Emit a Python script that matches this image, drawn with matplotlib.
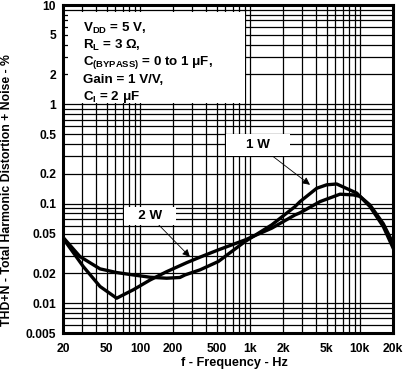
import matplotlib
matplotlib.use("Agg")
import matplotlib.pyplot as plt
from matplotlib.patches import Rectangle
from matplotlib.ticker import FixedLocator, NullFormatter, LogLocator

plt.rcParams['font.family'] = ['Liberation Sans', 'DejaVu Sans']
plt.rcParams['font.weight'] = 'bold'
plt.rcParams['mathtext.fontset'] = 'custom'
plt.rcParams['mathtext.rm'] = 'Liberation Sans:bold'
plt.rcParams['mathtext.bf'] = 'Liberation Sans:bold'
plt.rcParams['mathtext.it'] = 'Liberation Sans:bold'

# Data
freq_1w = [20, 28.5, 43.4, 61.5, 87, 124, 175, 231, 257, 352, 516, 903, 1578,
           2570, 2856, 4048, 4990, 6150, 9354, 12360, 16320, 20000]
thd_1w = [0.046, 0.0294, 0.0221, 0.0203, 0.0192, 0.0182, 0.0178, 0.0181, 0.0192,
          0.0216, 0.0262, 0.0416, 0.0612, 0.0935, 0.105, 0.143, 0.155, 0.158,
          0.128, 0.0935, 0.0589, 0.036]

freq_2w = [20, 30.6, 43.4, 61.5, 87, 124, 175, 266, 352, 516, 903, 1578, 2570,
           2856, 4338, 6592, 8710, 10020, 12360, 16320, 20000]
thd_2w = [0.045, 0.0233, 0.0147, 0.0112, 0.0136, 0.0171, 0.0207, 0.0255, 0.029,
          0.0343, 0.0432, 0.0567, 0.0771, 0.081, 0.105, 0.1247, 0.1227, 0.1187,
          0.097, 0.063, 0.040]

x_ticks = [20, 50, 100, 200, 500, 1000, 2000, 5000, 10000, 20000]
x_labels = ['20', '50', '100', '200', '500', '1k', '2k', '5k', '10k', '20k']
y_ticks = [0.005, 0.01, 0.02, 0.05, 0.1, 0.2, 0.5, 1, 2, 5, 10]
y_labels = ['0.005', '0.01', '0.02', '0.05', '0.1', '0.2', '0.5', '1', '2', '5', '10']

conditions = [r"V$_{\mathbf{DD}}$ = 5 V,",
              r"R$_{\mathbf{L}}$ = 3 Ω,",
              r"C$_{\mathbf{(BYPASS)}}$ = 0 to 1 μF,",
              r"Gain = 1 V/V,",
              r"C$_{\mathbf{I}}$ = 2 μF"]

fig = plt.figure(figsize=(4.06, 3.75), dpi=100)
ax = fig.add_axes([63/406, 1-333/375, 330/406, 328/375])
ax.set_xscale('log')
ax.set_yscale('log')
ax.set_xlim(20, 20000)
ax.set_ylim(0.005, 10)

ax.xaxis.set_major_locator(FixedLocator(x_ticks))
ax.set_xticklabels(x_labels)
ax.xaxis.set_minor_locator(LogLocator(base=10, subs=range(1, 10), numticks=50))
ax.xaxis.set_minor_formatter(NullFormatter())
ax.yaxis.set_major_locator(FixedLocator(y_ticks))
ax.set_yticklabels(y_labels)
ax.yaxis.set_minor_locator(LogLocator(base=10, subs=range(1, 10), numticks=50))
ax.yaxis.set_minor_formatter(NullFormatter())

ax.grid(True, which='both', color='black', linewidth=0.9)
ax.tick_params(which='both', length=0)
ax.tick_params(axis='x', pad=7, labelsize=8.7)
ax.tick_params(axis='y', pad=5, labelsize=8.7)
for lbl in ax.get_xticklabels() + ax.get_yticklabels():
    lbl.set_fontweight('bold')
for s in ax.spines.values():
    s.set_linewidth(2.2)
ax.set_axisbelow(True)

ax.plot(freq_1w, thd_1w, color='black', linewidth=2.4, solid_joinstyle='round', zorder=3)
ax.plot(freq_2w, thd_2w, color='black', linewidth=2.4, solid_joinstyle='round', zorder=3)

# condition box
ax.add_patch(Rectangle((5/330, 1-98/328), 177/330, 91/328, transform=ax.transAxes,
                       facecolor='white', edgecolor='none', zorder=2))
for i, line in enumerate(conditions):
    ax.text(20/330, 1-(23.5 + 17.2*i)/328, line, transform=ax.transAxes,
            fontsize=9.6, fontweight='bold', va='center', ha='left', zorder=4)

arrow = dict(arrowstyle='-|>', color='black', lw=0.6, mutation_scale=11,
             shrinkA=0, shrinkB=0)
ax.annotate("    1 W    ", xy=(3518, 0.155), xytext=(1184, 0.391),
            fontsize=9.6, fontweight='bold', ha='center', va='center',
            bbox=dict(boxstyle='square,pad=0.35', fc='white', ec='none'),
            arrowprops=arrow, zorder=5)
ax.annotate("   2 W   ", xy=(285, 0.0292), xytext=(123.6, 0.0754),
            fontsize=9.6, fontweight='bold', ha='center', va='center',
            bbox=dict(boxstyle='square,pad=0.2', fc='white', ec='none'),
            arrowprops=arrow, zorder=5)

fig.text(234/406, 1-363/375, "f - Frequency - Hz", fontsize=9.2, fontweight='bold',
         ha='center', va='center')
fig.text(7/406, 1-190/375, "THD+N - Total Harmonic Distortion + Noise - %",
         fontsize=8.8, fontweight='bold', ha='center', va='center', rotation=90)

fig.savefig('out.png', dpi=100)
